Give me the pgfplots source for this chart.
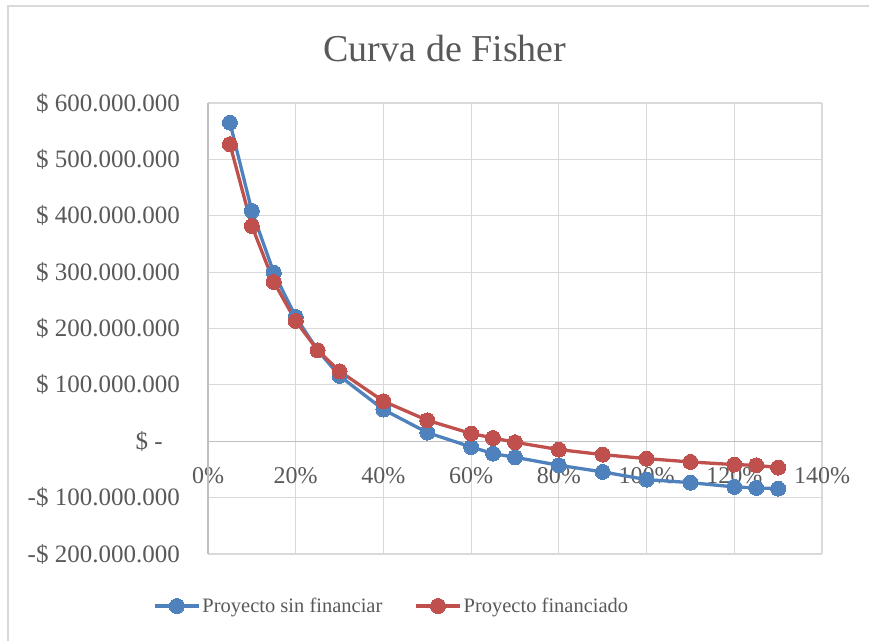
\documentclass[border=0pt]{standalone}
\usepackage{pgfplots}
\pgfplotsset{compat=1.18}
\usepackage{fontspec}
\setmainfont{Liberation Serif}

\definecolor{txtgray}{HTML}{595959}
\definecolor{gridgray}{HTML}{D9D9D9}
\definecolor{axgray}{HTML}{BFBFBF}
\definecolor{serieA}{HTML}{4F81BD}
\definecolor{serieB}{HTML}{C0504D}

% Valor presente neto (millones) frente a la tasa de descuento (%)
\pgfplotstableread{
tasa  vpn
5     565.3
10    408.5
15    299.2
20    220.5
25    161.4
30    115.8
40    56.2
50    15.4
60    -10.1
65    -21.9
70    -28.4
80    -42.6
90    -54.4
100   -68.0
110   -73.4
120   -81.0
125   -82.8
130   -84.0
}\sinfinanciar

\pgfplotstableread{
tasa  vpn
5     526.8
10    381.9
15    282.6
20    213.4
25    161.4
30    124.2
40    71.0
50    37.2
60    13.7
65    5.9
70    -1.8
80    -14.8
90    -23.7
100   -30.8
110   -36.7
120   -41.4
125   -42.6
130   -46.7
}\financiado

\begin{document}
\begin{tikzpicture}[x=1pt,y=1pt]
\useasboundingbox (0,0) rectangle (869,641);
\fill[white] (0,0) rectangle (869,641);
\draw[gridgray, line width=1.2pt] (8,0) -- (8,635) -- (869,635);

\node[anchor=base, text=txtgray, font=\fontsize{38}{44}\selectfont] at (445,579) {Curva de Fisher};

\begin{axis}[
  at={(208pt,87pt)}, anchor=south west,
  width=614pt, height=451pt, scale only axis,
  xmin=0, xmax=140, ymin=-200, ymax=600,
  clip=false,
  axis line style={draw=none},
  major tick length=0pt,
  xtick={0,20,...,140},
  xticklabels={0\%,20\%,40\%,60\%,80\%,100\%,120\%,140\%},
  ytick={-200,-100,...,600},
  yticklabels={-\$ 200.000.000,-\$ 100.000.000,\$ -\rule{17pt}{0pt},\$ 100.000.000,\$ 200.000.000,\$ 300.000.000,\$ 400.000.000,\$ 500.000.000,\$ 600.000.000},
  grid=major,
  grid style={gridgray, line width=1.2pt},
  xticklabel style={anchor=base, yshift=71pt, inner sep=0pt, text=txtgray, font=\fontsize{24}{28}\selectfont},
  yticklabel style={anchor=east, xshift=-28pt, inner sep=0pt, text=txtgray, font=\fontsize{25}{29}\selectfont},
  legend columns=2,
  legend style={at={(axis description cs:-0.0896,-0.1153)}, anchor=west, draw=none, fill=none,
    font=\fontsize{20.5}{25}\selectfont, text=txtgray, inner sep=0pt,
    /tikz/every even column/.append style={column sep=30pt}},
  legend image code/.code={\draw[mark repeat=2,mark phase=2,#1] plot coordinates {(0pt,0pt)(22pt,0pt)(44pt,0pt)};},
]
\draw[axgray, line width=1.2pt] (axis cs:0,0) -- (axis cs:140,0);
\draw[axgray, line width=1.2pt] (axis cs:0,-200) -- (axis cs:0,600);
\addplot[serieA, line width=3.3pt, mark=*, mark size=7.5pt, mark options={fill=serieA, draw=serieA, line width=0pt}] table[x=tasa, y=vpn] {\sinfinanciar};
\addlegendentry{Proyecto sin financiar}
\addplot[serieB, line width=3.3pt, mark=*, mark size=7.5pt, mark options={fill=serieB, draw=serieB, line width=0pt}] table[x=tasa, y=vpn] {\financiado};
\addlegendentry{Proyecto financiado}
\end{axis}
\end{tikzpicture}
\end{document}
